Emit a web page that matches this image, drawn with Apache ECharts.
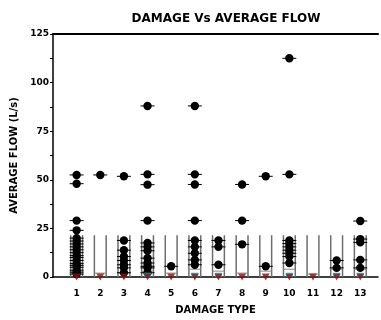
<!DOCTYPE html>
<html>
<head>
<meta charset="utf-8">
<script src="https://cdn.jsdelivr.net/npm/echarts@6/dist/echarts.min.js"></script>
<style>
  html, body { margin: 0; padding: 0; background: #fff; }
  #chart { width: 381px; height: 320px; }
</style>
</head>
<body>
<div id="chart"></div>
<script>
// damage types on the x axis
const damageTypes = [1, 2, 3, 4, 5, 6, 7, 8, 9, 10, 11, 12, 13];
// y ticks
const yTicks = [0, 25, 50, 75, 100, 125];
// top of the grey box per damage type
const boxTop = [21.5, 21.5, 21.5, 21.5, 21.5, 21.5, 21.5, 21.5, 21.5, 21.5, 21.5, 21.5, 21.5];
// grey median line near the bottom
const medians = [2, 2, 2, 3, 2, 4, 3, 2, 3, 4, 1.5, 4, 4];
// average flow readings per damage type
const flows = [
  [52.5, 48, 29, 24, 20, 18.5, 17, 15.5, 14, 12.5, 11, 10, 8.5, 7, 6, 5, 3.5, 2.5, 1.5],
  [52.5],
  [51.8, 18.8, 13.8, 10.5, 8.5, 6.3, 4.7, 2.2],
  [88, 52.8, 47.5, 29, 17.5, 15.5, 13.5, 9.7, 7.2, 5.5, 4.7, 2.2],
  [5.5],
  [88, 52.8, 47.6, 29, 18.8, 15.5, 12.2, 8.8, 6.3],
  [18.8, 15.5, 6.3],
  [47.6, 29, 16.8],
  [51.8, 5.5],
  [112.5, 52.8, 18.8, 17.2, 15.5, 13.8, 12.2, 10.5, 7.2],
  [],
  [8.5, 4.7],
  [28.8, 19.5, 17.8, 8.8, 4.7]
];
// zero readings (red triangles) and small cyan markers
const zeroTypes = [1, 2, 3, 4, 5, 6, 7, 8, 9, 10, 11, 12, 13];
const cyanTypes = [4, 6, 7, 10, 12, 13];

const font = 'DejaVu Sans';
const pts = [];
flows.forEach((arr, i) => arr.forEach(v => pts.push([damageTypes[i], v])));

const chart = echarts.init(document.getElementById('chart'));
chart.setOption({
  animation: false,
  title: {
    text: 'DAMAGE Vs AVERAGE FLOW',
    left: 221, top: 8, textAlign: 'center',
    textStyle: { fontFamily: font, fontWeight: 'bold', fontSize: 12, color: '#000' }
  },
  grid: { left: 53, top: 34, right: 0, bottom: 36 },
  xAxis: [{
    type: 'value', min: 0, max: 13.75, interval: 1,
    name: 'DAMAGE TYPE', nameLocation: 'middle', nameGap: 28,
    nameTextStyle: { fontFamily: font, fontWeight: 'bold', fontSize: 10, color: '#000' },
    axisLine: { show: true, lineStyle: { color: '#000', width: 1.5 } },
    axisTick: { show: false },
    splitLine: { show: false },
    axisLabel: {
      margin: 12, fontFamily: font, fontWeight: 'bold', fontSize: 9, color: '#000',
      formatter: v => damageTypes.indexOf(v) >= 0 ? String(v) : ''
    }
  }, {
    type: 'value', position: 'top', min: 0, max: 13.75,
    axisLine: { show: true, lineStyle: { color: '#000', width: 2 } },
    axisTick: { show: false }, axisLabel: { show: false }, splitLine: { show: false }
  }],
  yAxis: {
    type: 'value', min: yTicks[0], max: yTicks[yTicks.length - 1], interval: 25,
    name: 'AVERAGE FLOW (L/s)', nameLocation: 'middle', nameGap: 28,
    nameTextStyle: { fontFamily: font, fontWeight: 'bold', fontSize: 10, color: '#000' },
    axisLine: { show: true, lineStyle: { color: '#000', width: 1.5 } },
    axisTick: { show: true, length: 3, lineStyle: { color: '#000' } },
    minorTick: { show: true, splitNumber: 2, length: 3, lineStyle: { color: '#000' } },
    splitLine: { show: false },
    axisLabel: { margin: 4, fontFamily: font, fontWeight: 'bold', fontSize: 9, color: '#000' }
  },
  series: [
    {
      type: 'custom',
      data: damageTypes.map((d, i) => [d, boxTop[i], medians[i]]),
      renderItem(params, api) {
        const x = api.value(0);
        const left = api.coord([x - 0.25, 0]);
        const right = api.coord([x + 0.25, 0]);
        const top = api.coord([x, api.value(1)]);
        const med = api.coord([x, api.value(2)]);
        const st = { stroke: '#6e6e6e', lineWidth: 1.5 };
        return {
          type: 'group',
          children: [
            { type: 'line', shape: { x1: left[0], y1: left[1], x2: left[0], y2: top[1] }, style: st },
            { type: 'line', shape: { x1: right[0], y1: right[1], x2: right[0], y2: top[1] }, style: st },
            { type: 'line', shape: { x1: left[0], y1: med[1], x2: right[0], y2: med[1] }, style: { stroke: '#8a8a8a', lineWidth: 1 } }
          ]
        };
      }
    },
    {
      type: 'scatter',
      data: cyanTypes.map(d => [d, 1.2]),
      symbol: 'rect', symbolSize: [7, 4],
      itemStyle: { color: '#00d0dc' }
    },
    {
      type: 'scatter',
      data: zeroTypes.map(d => [d, 0]),
      symbol: 'triangle', symbolRotate: 180, symbolSize: [8, 7],
      itemStyle: { color: '#8b1010' }
    },
    {
      type: 'custom',
      data: pts,
      renderItem(params, api) {
        const p = api.coord([api.value(0), api.value(1)]);
        return {
          type: 'group',
          children: [
            { type: 'line', shape: { x1: p[0] - 7, y1: p[1], x2: p[0] + 7, y2: p[1] }, style: { stroke: '#000', lineWidth: 1 } },
            { type: 'circle', shape: { cx: p[0], cy: p[1], r: 4.2 }, style: { fill: '#000' } }
          ]
        };
      }
    }
  ]
});
</script>
</body>
</html>
